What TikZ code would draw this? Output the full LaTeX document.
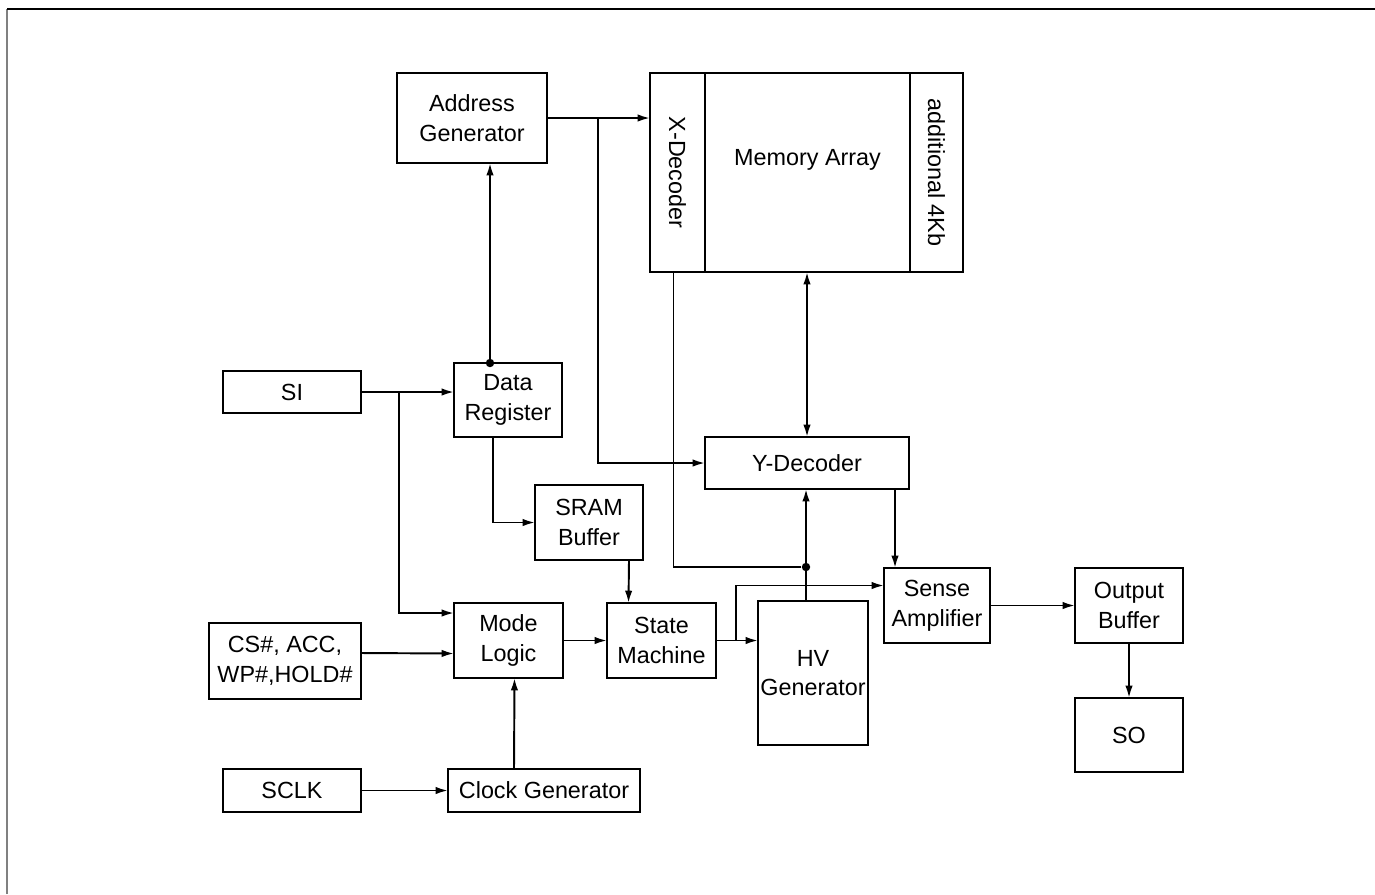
\documentclass[tikz,border=0pt]{standalone}
\usepackage{fontspec}
\setmainfont{Liberation Sans}
\usetikzlibrary{arrows.meta,calc}

\begin{document}
\begin{tikzpicture}[
            x = 0.02cm, y = -0.02cm, % one unit is one pixel of the sketch
            > = {Latex[length=7pt,width=4.2pt]}, % arrow head style
            line width = 1.1pt, % line style
            txt/.style = {font=\fontsize{13.3}{17}\selectfont},
            blk/.style = {draw, txt, inner sep=0pt, outer sep=0pt, align=center},
            sz/.style 2 args = {minimum width=#1*0.02cm, minimum height=#2*0.02cm},
            vtext/.style = {txt, rotate=-90},
            dot/.style = {circle, fill, inner sep=0pt, minimum size=4.8pt}
        ]

	\useasboundingbox (0,0) rectangle (1375,894);
	\draw[gray] (7,894) -- (7,9);
	\draw (7,9) -- (1375,9);

	% array side
	\node[blk, sz={150}{90}] (addr) at (472,118) {Address\\Generator};
	\node[blk, sz={55}{199}, label={[vtext]center:X-Decoder}] (xdec) at (677.5,172.5) {};
	\node[blk, sz={205}{199}, label={[txt, yshift=7pt]center:Memory Array}] (core) at (807.5,172.5) {};
	\node[blk, sz={53}{199}, label={[vtext]center:additional 4Kb}] (extra) at (936.5,172.5) {};
	\node[blk, sz={204}{52}] (ydec) at (807,463) {Y-Decoder};

	% input side
	\node[blk, sz={138}{42}] (si) at (292,392) {SI};
	\node[blk, sz={108}{74}] (dreg) at (508,400) {Data\\Register};
	\node[blk, sz={108}{75}] (sram) at (589,522.5) {SRAM\\Buffer};
	\node[blk, sz={152}{76}] (cs) at (285,661) {CS\#, ACC,\\WP\#,HOLD\#};
	\node[blk, sz={109}{75}] (mode) at (508.5,640.5) {Mode\\Logic};
	\node[blk, sz={109}{75}] (sm) at (661.5,640.5) {State\\Machine};
	\node[blk, sz={110}{144}] (hv) at (813,673) {HV\\Generator};
	\node[blk, sz={138}{43}] (sclk) at (292,790.5) {SCLK};
	\node[blk, sz={192}{43}] (clk) at (544,790.5) {Clock Generator};

	% output side
	\node[blk, sz={106}{75}] (sa) at (937,605.5) {Sense\\Amplifier};
	\node[blk, sz={108}{75}] (ob) at (1129,605.5) {Output\\Buffer};
	\node[blk, sz={108}{74}] (so) at (1129,735) {SO};

	% junctions
	\node[dot] (dtop) at (490,363) {};
	\node[dot] (jn) at (806,567) {};
	\coordinate (ab) at ($(addr.east)+(51,0)$);
	\coordinate (sib) at ($(si.east)+(38,0)$);
	\coordinate (smb) at ($(sm.east)+(20,0)$);

	\draw[->] (addr.east) -- (addr.east -| xdec.west);
	\draw[->] (ab) |- (ydec.west);
	\draw[->] (dtop.center) -- (dtop |- addr.south);
	\draw[<->] (core.south -| ydec.north) -- (ydec.north);

	\draw[->] (si.east) -- (si.east -| dreg.west);
	\draw[->] (sib) |- ($(mode.north west)+(0,10)$);
	\draw[->] ($(dreg.south)+(-15,0)$) |- (sram.west);
	\draw[->] ($(sram.south)+(40,0)$) -- ($(sm.north)+(-33,0)$);
	\draw[->] ($(cs.east)+(0,-8)$) -- ($(mode.west)+(0,13)$);
	\draw[->] ($(clk.north)+(-30,0)$) -- ($(mode.south)+(6,0)$);
	\draw[->] (sclk) -- (clk);
	\draw[->] (mode) -- (sm);
	\draw[->] (sm.east) -- (sm.east -| hv.west);
	\draw[->] (smb) |- ($(sa.west)+(0,-20)$);

	\draw ($(xdec.south)+(-4,0)$) |- (jn);
	\draw[->] (hv.north -| jn) -- (jn |- ydec.south);
	\draw[->] ($(ydec.south)+(88,0)$) -- ($(sa.north)+(-42,0)$);
	\draw[->] (sa.east) -- (sa.east -| ob.west);
	\draw[->] (ob) -- (so);

\end{tikzpicture}
\end{document}
